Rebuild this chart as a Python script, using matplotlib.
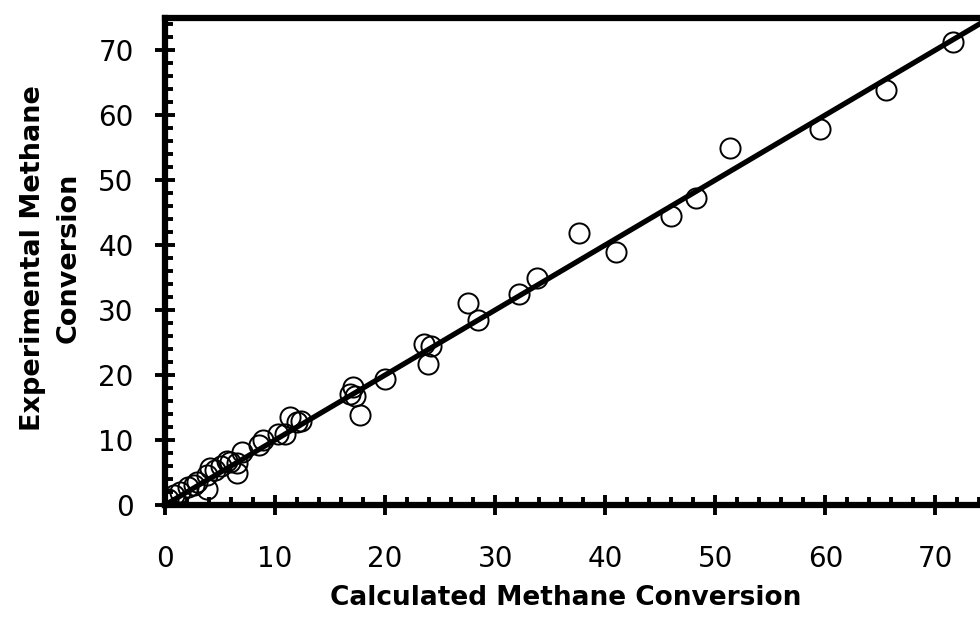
import numpy as np
import matplotlib
matplotlib.use("Agg")
import matplotlib.pyplot as plt
from matplotlib.ticker import MultipleLocator

# Datos
calc = [0.3, 0.8, 1.4, 2.1, 2.6, 2.9, 3.8, 3.8, 4.1, 4.5, 5.1, 5.6, 5.9, 6.5, 6.5,
        7.0, 8.5, 8.9, 10.3, 10.9, 11.35, 12.0, 12.4, 17.7, 16.8, 17.1, 17.3, 20.0,
        23.5, 24.2, 23.9, 27.5, 28.4, 32.2, 33.8, 37.6, 41.0, 46.0, 48.2, 51.3,
        59.5, 65.5, 71.6]
exper = [1.0, 1.5, 2.0, 2.8, 3.1, 3.6, 2.4, 4.6, 5.7, 5.4, 6.0, 6.8, 6.6, 6.4, 4.9,
         8.2, 9.2, 10.0, 10.9, 11.0, 13.5, 12.8, 13.0, 13.9, 17.1, 18.1, 16.8, 19.4,
         24.8, 24.5, 21.7, 31.1, 28.5, 32.4, 34.9, 41.9, 38.9, 44.4, 47.2, 55.0,
         57.8, 63.9, 71.2]
parity = [0, 75]

W, H = 980, 629
fig = plt.figure(figsize=(W / 100, H / 100), dpi=100)
ax = fig.add_axes([165 / W, (H - 505) / H, 825.5 / W, 487.5 / H])

ax.plot(calc, exper, 'o', mfc='none', mec='black', ms=14.5, mew=1.4, zorder=2)
ax.plot(parity, parity, color='black', lw=3.8, zorder=3, solid_capstyle='butt')

ax.set_xlim(0, 75)
ax.set_ylim(0, 75)
ax.xaxis.set_major_locator(MultipleLocator(10))
ax.yaxis.set_major_locator(MultipleLocator(10))
ax.xaxis.set_minor_locator(MultipleLocator(2))
ax.yaxis.set_minor_locator(MultipleLocator(2))

for s in ax.spines.values():
    s.set_linewidth(4.5)
ax.tick_params(which='major', direction='inout', length=15, width=2.8,
               labelsize=20, pad=15)
ax.tick_params(axis='x', which='major', pad=21)
ax.tick_params(which='minor', direction='in', length=6, width=2.8)

fig.text(566 / W, 1 - 598 / H, 'Calculated Methane Conversion',
         ha='center', va='center', fontsize=19, fontweight='bold')
fig.text(51 / W, 1 - 258 / H, 'Experimental Methane\nConversion',
         ha='center', va='center', rotation=90, fontsize=19.5,
         fontweight='bold', linespacing=1.5)

fig.savefig('out.png', dpi=100)
